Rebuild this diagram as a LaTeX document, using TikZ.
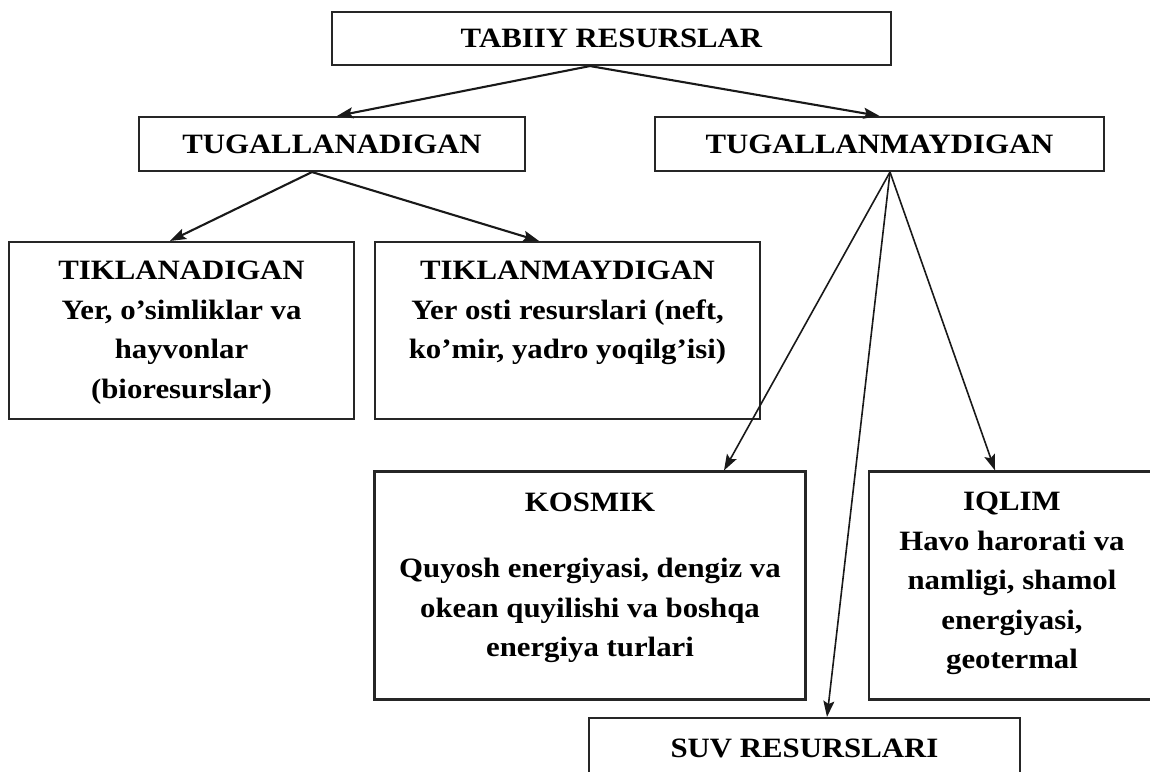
\documentclass[tikz,border=0pt]{standalone}
\usepackage{fontspec}
\setmainfont{Liberation Serif}[FakeStretch=1.1]
\usetikzlibrary{arrows.meta,calc}
\tikzset{
  box/.style={draw=black!85, line width=2.1pt, rectangle, inner sep=0pt, fill=white},
  txt/.style={font=\bfseries\fontsize{28}{39.5}\selectfont, align=center, inner sep=0pt},
  arr/.style={draw=black!90, line width=2.1pt, -{Stealth[length=16pt,width=11pt,inset=3pt]}},
  arrthin/.style={draw=black!90, line width=1.6pt, -{Stealth[length=16pt,width=11pt,inset=3pt]}}
}
\begin{document}
\begin{tikzpicture}[x=1pt,y=-1pt]
\useasboundingbox (0,0) rectangle (1150,771);
% single-line boxes
\node[box, txt, minimum width=559pt, minimum height=53pt] (top) at (611.5,38.5) {TABIIY RESURSLAR};
\node[box, txt, minimum width=386pt, minimum height=54pt] (tug1) at (332,144) {TUGALLANADIGAN};
\node[box, txt, minimum width=449pt, minimum height=54pt] (tug2) at (879.5,144) {TUGALLANMAYDIGAN};
% multi-line boxes
\node[box, minimum width=345pt, minimum height=177pt] (tik1) at (181.5,330.5) {};
\node[box, minimum width=385pt, minimum height=177pt] (tik2) at (567.5,330.5) {};
\node[box, minimum width=431pt, minimum height=228pt] (kos) at (590,585.5) {};
\node[box, minimum width=286pt, minimum height=228pt] (iql) at (1012,585.5) {};
\node[box, txt, minimum width=431pt, minimum height=60pt] (suv) at (804.5,748) {SUV RESURSLARI};
% texts
\node[txt, anchor=north] (tik1t) at (181.5,261) {TIKLANADIGAN\\Yer, o’simliklar va\\hayvonlar\\(bioresurslar)};
\node[txt, anchor=north] (tik2t) at (567.5,261) {TIKLANMAYDIGAN\\Yer osti resurslari (neft,\\ko’mir, yadro yoqilg’isi)};
\node[txt, anchor=north] (kost) at (590,493) {KOSMIK};
\node[txt, anchor=north] (kosb) at (590,558) {Quyosh energiyasi, dengiz va\\okean quyilishi va boshqa\\energiya turlari};
\node[txt, anchor=north] (iqlt) at (1012,492) {IQLIM\\Havo harorati va\\namligi, shamol\\energiyasi,\\geotermal};
% arrows
\draw[arr] ($(top.south)+(-21.5,0)$) -- ($(tug1.north)+(5,0)$);
\draw[arr] ($(top.south)+(-21.5,0)$) -- (tug2.north);
\draw[arr] ($(tug1.south)+(-20,0)$) -- ($(tik1.north)+(-11.5,0)$);
\draw[arr] ($(tug1.south)+(-20,0)$) -- ($(tik2.north)+(-28.5,0)$);
\draw[arrthin] ($(tug2.south)+(10.5,0)$) -- ($(kos.north)+(134,0)$);
\draw[arrthin] ($(tug2.south)+(10.5,0)$) -- ($(iql.north)+(-17,0)$);
\draw[arrthin] ($(tug2.south)+(10.5,0)$) -- ($(suv.north)+(22.5,0)$);
\end{tikzpicture}
\end{document}
